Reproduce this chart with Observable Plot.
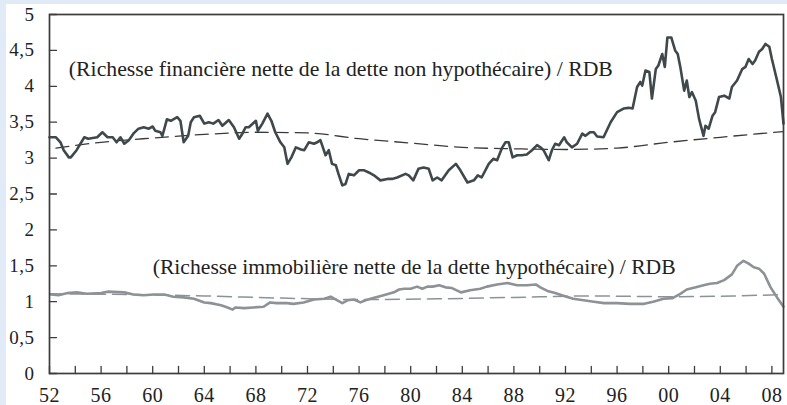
<!DOCTYPE html>
<html><head><meta charset="utf-8">
<script src="https://cdn.jsdelivr.net/npm/d3@7"></script>
<script src="https://cdn.jsdelivr.net/npm/@observablehq/plot@0.6"></script>
<style>
html,body{margin:0;padding:0;background:#e1eaf7;overflow:hidden;}
#chart{position:absolute;left:6px;top:4px;width:781px;height:401px;background:#fff;}
</style></head><body><div id="chart"></div>
<script>
// Financial wealth net of non-mortgage debt / RDB
const finYears = [1952.0,1952.5,1952.85,1953.1,1953.5,1953.65,1954.1,1954.7,1955.0,1955.7,1956.1,1956.5,1956.9,1957.2,1957.5,1957.8,1958.15,1958.5,1958.9,1959.3,1959.7,1960.0,1960.2,1960.6,1960.75,1961.1,1961.4,1961.9,1962.15,1962.4,1962.75,1962.95,1963.2,1963.65,1964.0,1964.35,1964.7,1965.1,1965.4,1965.9,1966.3,1966.7,1966.95,1967.2,1967.45,1968.0,1968.15,1968.5,1968.9,1969.2,1969.5,1969.9,1970.2,1970.45,1970.75,1971.1,1971.5,1971.75,1972.1,1972.5,1972.75,1973.0,1973.4,1973.65,1973.9,1974.2,1974.4,1974.7,1974.95,1975.2,1975.6,1976.0,1976.4,1976.75,1977.15,1977.65,1978.2,1978.55,1978.95,1979.6,1979.85,1980.2,1980.6,1981.0,1981.4,1981.7,1982.05,1982.4,1982.95,1983.5,1983.85,1984.4,1984.9,1985.2,1985.5,1986.05,1986.4,1986.7,1987.1,1987.35,1987.6,1987.9,1988.25,1988.6,1989.0,1989.4,1989.8,1990.05,1990.3,1990.7,1990.95,1991.2,1991.5,1991.9,1992.1,1992.5,1992.9,1993.3,1993.55,1993.9,1994.2,1994.45,1994.95,1995.5,1996.0,1996.5,1996.9,1997.2,1997.55,1997.8,1997.95,1998.2,1998.5,1998.7,1999.0,1999.2,1999.5,1999.7,1999.9,2000.2,2000.5,2000.7,2000.9,2001.2,2001.4,2001.6,2001.8,2002.1,2002.35,2002.7,2002.85,2003.1,2003.4,2003.6,2003.9,2004.3,2004.7,2004.9,2005.3,2005.7,2005.95,2006.2,2006.5,2006.7,2007.0,2007.25,2007.5,2007.8,2008.0,2008.4,2008.7,2008.9];
const finValues = [3.29,3.29,3.22,3.11,3.01,3.01,3.11,3.29,3.27,3.29,3.36,3.29,3.29,3.22,3.29,3.20,3.25,3.34,3.41,3.43,3.41,3.44,3.38,3.36,3.31,3.54,3.52,3.57,3.52,3.22,3.31,3.50,3.57,3.59,3.48,3.50,3.48,3.53,3.45,3.53,3.43,3.27,3.34,3.43,3.43,3.52,3.38,3.48,3.62,3.52,3.36,3.22,3.15,2.92,3.01,3.15,3.12,3.11,3.22,3.20,3.22,3.25,3.04,3.11,2.92,2.90,2.78,2.62,2.64,2.78,2.76,2.83,2.83,2.80,2.76,2.69,2.71,2.71,2.73,2.78,2.76,2.69,2.85,2.87,2.85,2.69,2.73,2.69,2.83,2.92,2.83,2.66,2.69,2.76,2.73,2.92,2.99,2.97,3.15,3.22,3.22,3.01,3.04,3.04,3.05,3.11,3.18,3.15,3.11,2.97,3.11,3.20,3.18,3.29,3.22,3.15,3.20,3.34,3.31,3.36,3.36,3.30,3.29,3.50,3.64,3.69,3.70,3.69,3.99,4.06,4.01,4.22,4.20,3.83,4.24,4.29,4.45,4.27,4.68,4.68,4.50,4.45,4.27,3.94,4.08,3.85,3.92,3.80,3.55,3.31,3.45,3.41,3.59,3.64,3.85,3.87,3.83,3.99,4.08,4.24,4.27,4.38,4.31,4.36,4.48,4.52,4.59,4.55,4.38,4.08,3.85,3.48];

// Real-estate wealth net of mortgage debt / RDB
const immoYears = [1952.1,1952.7,1953.4,1954.1,1954.9,1956.0,1956.5,1957.8,1958.5,1959.3,1960.1,1960.9,1961.6,1962.4,1963.2,1964.0,1964.5,1965.3,1965.8,1966.2,1966.4,1967.1,1967.8,1968.6,1969.1,1969.6,1970.4,1970.9,1971.7,1972.5,1973.3,1973.8,1974.0,1974.7,1975.1,1975.6,1976.1,1976.5,1977.1,1977.9,1978.7,1979.1,1979.5,1980.0,1980.5,1980.9,1981.3,1981.7,1982.2,1982.7,1983.2,1983.9,1984.6,1985.4,1985.9,1986.7,1987.5,1988.25,1989.0,1989.7,1990.05,1990.6,1991.2,1991.9,1992.6,1993.4,1994.2,1995.0,1996.0,1997.0,1998.1,1998.8,1999.6,2000.3,2000.9,2001.4,2002.1,2002.7,2003.2,2003.75,2004.3,2004.9,2005.3,2005.8,2006.2,2006.6,2007.0,2007.4,2007.9,2008.4,2008.9];
const immoValues = [1.10,1.09,1.12,1.13,1.11,1.12,1.14,1.13,1.10,1.09,1.10,1.10,1.07,1.06,1.04,0.99,0.98,0.95,0.92,0.89,0.92,0.91,0.92,0.93,0.99,0.98,0.98,0.97,0.99,1.03,1.04,1.07,1.05,0.98,1.02,1.03,0.99,1.02,1.05,1.09,1.13,1.17,1.18,1.18,1.21,1.18,1.21,1.21,1.23,1.20,1.19,1.13,1.16,1.18,1.21,1.24,1.26,1.23,1.23,1.24,1.20,1.15,1.12,1.08,1.04,1.02,1.00,0.98,0.98,0.97,0.97,1.00,1.04,1.05,1.11,1.17,1.20,1.23,1.25,1.26,1.30,1.38,1.50,1.57,1.53,1.48,1.46,1.39,1.20,1.06,0.93];

// Long-run trends (dashed)
const finTrendYears  = [1952.5,1956,1960,1964,1968,1972,1976,1980,1984,1988,1992,1996,2000,2004,2008.9];
const finTrendValues = [3.14,3.22,3.28,3.33,3.36,3.35,3.27,3.21,3.15,3.13,3.12,3.14,3.22,3.29,3.37];
const immoTrendYears  = [1952,1958,1964,1970,1976,1982,1988,1994,2000,2005,2008.9];
const immoTrendValues = [1.11,1.10,1.08,1.05,1.03,1.04,1.06,1.08,1.07,1.08,1.10];

// Axes
const yTicks = [0,0.5,1,1.5,2,2.5,3,3.5,4,4.5,5];
const xLabelYears = [1952,1956,1960,1964,1968,1972,1976,1980,1984,1988,1992,1996,2000,2004,2008];
const xTickYears = [1952,1954,1956,1958,1960,1962,1964,1966,1968,1970,1972,1974,1976,1978,1980,1982,1984,1986,1988,1990,1992,1994,1996,1998,2000,2002,2004,2006,2008];

const labelFin = "(Richesse financière nette de la dette non hypothécaire) / RDB";
const labelImmo = "(Richesse immobilière nette de la dette hypothécaire) / RDB";

const zip = (xs, ys) => xs.map((x, i) => ({x, y: ys[i]}));
const fin = zip(finYears, finValues);
const immo = zip(immoYears, immoValues);
const finTrend = zip(finTrendYears, finTrendValues);
const immoTrend = zip(immoTrendYears, immoTrendValues);

const tickShape = {draw(ctx, l) { ctx.moveTo(0, 0); ctx.lineTo(0, -l); }};
const axisColor = "#3c3c3c";

const chart = Plot.plot({
  width: 781, height: 401,
  marginLeft: 43, marginTop: 10, marginRight: 4, marginBottom: 32,
  style: {fontFamily: "'Liberation Serif', 'Times New Roman', serif", fontSize: "18px", color: "#222", background: "white", overflow: "visible"},
  x: {domain: [1952, 2008.9], label: null},
  y: {domain: [0, 5], label: null},
  marks: [
    Plot.axisY(yTicks, {tickSize: 0, tickPadding: 15, tickFormat: d => String(d).replace(".", ","), fontSize: 19}),
    Plot.axisX(xLabelYears, {tickSize: 0, tickPadding: 14, tickFormat: d => String(d % 100).padStart(2, "0"), fontSize: 20}),
    Plot.vector(yTicks, {x: 1952, y: d => d, length: 7, rotate: 90, anchor: "start", shape: tickShape, stroke: axisColor, strokeWidth: 1.3}),
    Plot.vector(xTickYears, {x: d => d, y: 0, length: 7, rotate: 0, anchor: "start", shape: tickShape, stroke: axisColor, strokeWidth: 1.3}),
    Plot.line(immoTrend, {x: "x", y: "y", stroke: "#8c9295", strokeWidth: 1.5, strokeDasharray: "14,7", curve: "monotone-x"}),
    Plot.line(finTrend, {x: "x", y: "y", stroke: "#3a3a3a", strokeWidth: 1.3, strokeDasharray: "13,7", curve: "monotone-x"}),
    Plot.line(immo, {x: "x", y: "y", stroke: "#8c9295", strokeWidth: 2.6, strokeLinejoin: "round"}),
    Plot.line(fin, {x: "x", y: "y", stroke: "#3f484a", strokeWidth: 2.6, strokeLinejoin: "round"}),
    Plot.text([labelFin], {x: 1953.5, y: 4.24, text: d => d, textAnchor: "start", fontSize: 21, fill: "#222"}),
    Plot.text([labelImmo], {x: 1960.0, y: 1.48, text: d => d, textAnchor: "start", fontSize: 21, fill: "#222"}),
    Plot.frame({stroke: axisColor, strokeWidth: 1.7})
  ]
});
// stretch annotation texts to the reference's set width (Garamond is wider than Times)
d3.select(chart).selectAll("text").each(function() {
  const t = this.textContent;
  if (t === labelFin) d3.select(this).attr("textLength", 544).attr("lengthAdjust", "spacingAndGlyphs");
  if (t === labelImmo) d3.select(this).attr("textLength", 523).attr("lengthAdjust", "spacingAndGlyphs");
});
d3.select(chart).selectAll('[aria-label="y-axis tick label"] text, [aria-label="x-axis tick label"] text').attr("letter-spacing", "0.5px");
document.getElementById("chart").appendChild(chart);
</script>
</body></html>
